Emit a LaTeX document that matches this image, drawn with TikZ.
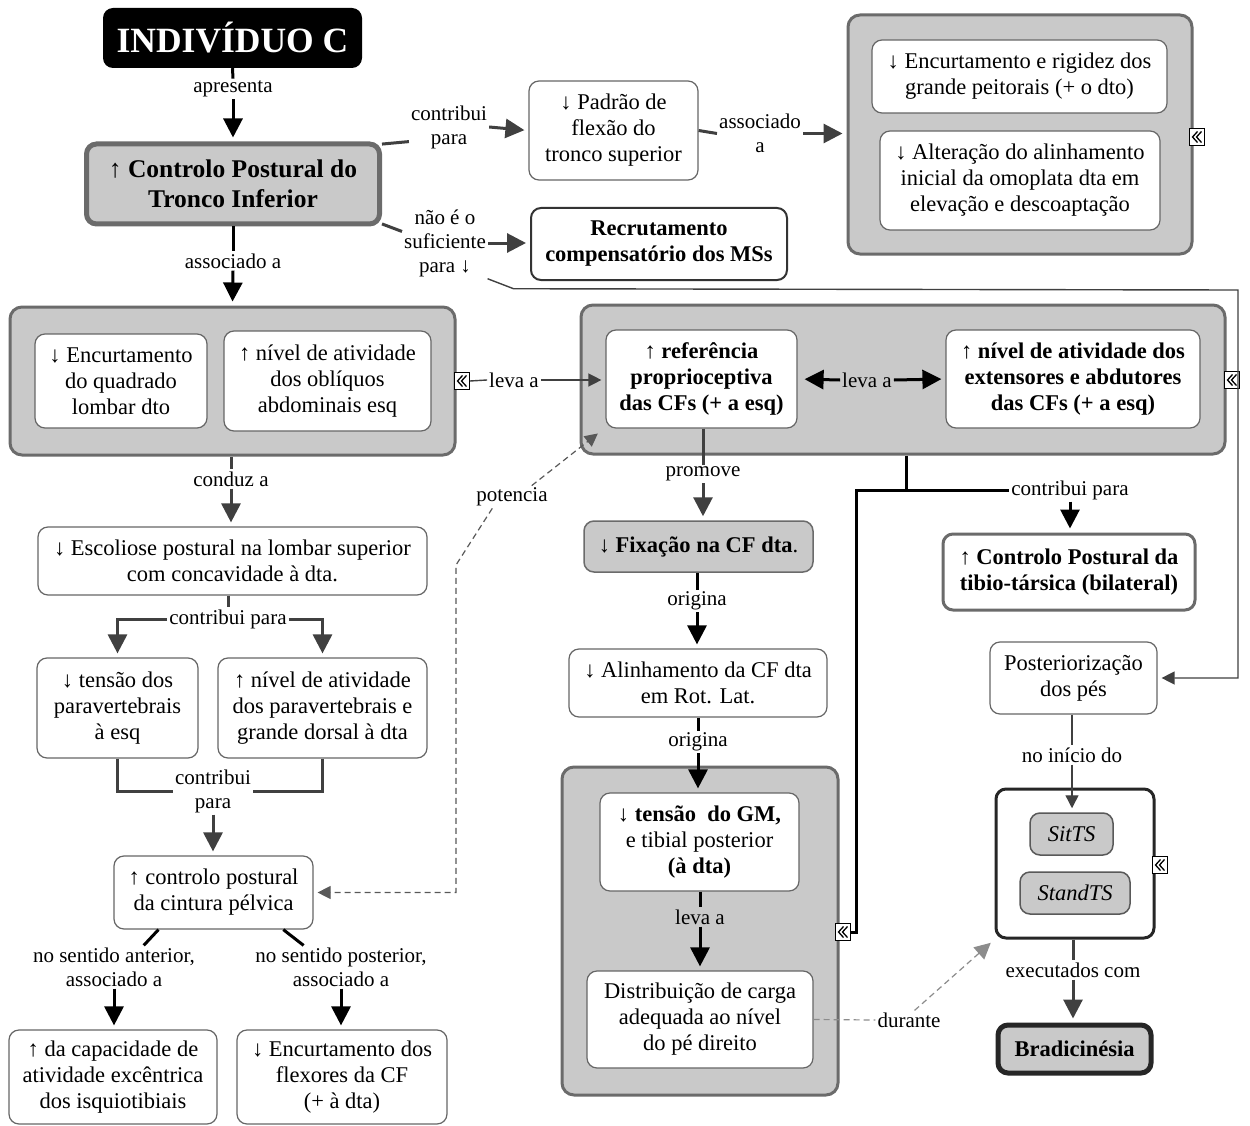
\documentclass[tikz,border=0pt]{standalone}
\usepackage{fontspec}
\setmainfont{Liberation Serif}
\usetikzlibrary{arrows.meta,calc}
\begin{document}
\begin{tikzpicture}[x=1pt,y=-1pt,
  base/.style={font=\fontsize{22.5}{26}\selectfont, align=center, inner sep=0pt, rounded corners=10pt},
  plain/.style={base, draw=black!60, line width=1.2pt, fill=white},
  boldtxt/.style={font=\bfseries\fontsize{22.5}{26}\selectfont},
  grp/.style={draw=black!58, line width=3pt, fill=black!21, rounded corners=12pt, inner sep=0pt},
  lbl/.style={font=\fontsize{21}{24}\selectfont, align=center, inner sep=2pt},
  icon/.style={draw=black, fill=white, line width=1pt, minimum width=15pt, minimum height=17pt, inner sep=0pt,
    path picture={
      \draw[line width=1.3pt, line join=miter]
        ([xshift=0.5pt,yshift=-5.5pt]path picture bounding box.center) -- ++(-5,-5.5) -- ++(5,-5.5)
        ([xshift=4.5pt,yshift=-5.5pt]path picture bounding box.center) -- ++(-5,-5.5) -- ++(5,-5.5);
    }},
  blackln/.style={line width=3pt, draw=black},
  grayln/.style={line width=3pt, draw=black!75},
  thinln/.style={line width=1.4pt, draw=black!75},
  bigtip/.style={-{Triangle[length=19pt,width=19pt]}, shorten >=4pt},
  smalltip/.style={-{Triangle[length=13pt,width=13pt]}, shorten >=4pt},
  dashln/.style={dashed, dash pattern=on 6pt off 4pt, line width=1.2pt, draw=black!65},
]
\useasboundingbox[fill=white] (0,0) rectangle (1250,1126);

% ---------- top row ----------
\node[fill=black, text=white, rounded corners=10pt, minimum width=259pt, minimum height=60pt, inner sep=0pt,
      font=\bfseries\fontsize{35.5}{40}\selectfont] (ind) at (232.5,38) {INDIVÍDUO C};
\node[base, draw=black!58, line width=5pt, fill=black!21, minimum width=293pt, minimum height=80pt,
      font=\bfseries\fontsize{25.5}{30}\selectfont] (ctrl) at (233,184) {↑ Controlo Postural do\\Tronco Inferior};
\node[plain, minimum width=169pt, minimum height=99pt] (padrao) at (613.5,130.5) {↓ Padrão de\\flexão do\\tronco superior};

\node[grp, minimum width=344pt, minimum height=239pt] (gtr) at (1020,134.5) {};
\node[plain, minimum width=295pt, minimum height=73pt] (peit) at (1019.5,76.5) {↓ Encurtamento e rigidez dos\\grande peitorais (+ o dto)};
\node[plain, minimum width=280pt, minimum height=99pt] (omo) at (1020,180.5) {↓ Alteração do alinhamento\\inicial da omoplata dta em\\elevação e descoaptação};
\node[icon] (ic1) at (1197,137) {};

\node[plain, draw=black!80, line width=2pt, minimum width=256pt, minimum height=72pt, boldtxt] (recr) at (659,244) {Recrutamento\\compensatório dos MSs};

\node[lbl] (l1) at (233,89) {apresenta};
\node[lbl] (l2) at (449,127) {contribui\\para};
\node[lbl] (l3) at (760,133.5) {associado\\a};
\node[lbl] (l4) at (445,243) {não é o\\suficiente\\para ↓};
\node[lbl] (l5) at (233,261) {associado a};

% ---------- left group ----------
\node[grp, minimum width=445pt, minimum height=148pt] (g1) at (232.5,381) {};
\node[plain, minimum width=172pt, minimum height=94pt] (quad) at (121,381) {↓ Encurtamento\\do quadrado\\lombar dto};
\node[plain, minimum width=207pt, minimum height=100pt] (obliq) at (327.5,381) {↑ nível de atividade\\dos oblíquos\\abdominais esq};
\node[icon] (ic2) at (462,381) {};
\node[lbl] (lL) at (514,380) {leva a};

% ---------- middle group ----------
\node[grp, minimum width=644pt, minimum height=149pt] (g2) at (903,379.5) {};
\node[plain, minimum width=191pt, minimum height=98pt, boldtxt] (refc) at (701.5,379) {↑ referência\\proprioceptiva\\das CFs (+ a esq)};
\node[plain, minimum width=254pt, minimum height=98pt, boldtxt] (refd) at (1073,379) {↑ nível de atividade dos\\extensores e abdutores\\das CFs (+ a esq)};
\node[icon] (ic3) at (1232,380) {};
\node[lbl] (lLv) at (867,380) {leva a};

% ---------- left column ----------
\node[lbl] (lCd) at (231,479) {conduz a};
\node[plain, minimum width=389pt, minimum height=68pt] (esc) at (232.5,561) {↓ Escoliose postural na lombar superior\\com concavidade à dta.};
\node[lbl] (lC2) at (228,619) {contribui para};
\node[plain, minimum width=161pt, minimum height=100pt] (t1) at (117.5,708) {↓ tensão dos\\paravertebrais\\à esq};
\node[plain, minimum width=209pt, minimum height=100pt] (t2) at (322.5,708) {↑ nível de atividade\\dos paravertebrais e\\grande dorsal à dta};
\node[lbl] (lC3) at (213,791) {contribui\\para};
\node[plain, minimum width=199pt, minimum height=73pt] (pelv) at (213.5,892.5) {↑ controlo postural\\da cintura pélvica};
\node[lbl] (nsa) at (114,967) {no sentido anterior,\\associado a};
\node[lbl] (nsp) at (341,967) {no sentido posterior,\\associado a};
\node[plain, minimum width=208pt, minimum height=94pt] (isq) at (113,1077) {↑ da capacidade de\\atividade excêntrica\\dos isquiotibiais};
\node[plain, minimum width=210pt, minimum height=94pt] (flex) at (342,1077) {↓ Encurtamento dos\\flexores da CF\\(+ à dta)};
\node[lbl] (lPo) at (512,497) {potencia};
\coordinate (potend) at (601,431);

% ---------- middle column ----------
\node[lbl] (lPr) at (703,474) {promove};
\node[base, draw=black!58, line width=1.5pt, fill=black!21, minimum width=229pt, minimum height=51pt] (fix) at (698.5,546.5) {\textbf{↓ Fixação na CF dta}.};
\node[lbl] (lO1) at (697,601) {origina};
\node[plain, minimum width=258pt, minimum height=68pt] (alin) at (698,683) {↓ Alinhamento da CF dta\\em Rot. Lat.};
\node[lbl] (lO2) at (698,742) {origina};
\node[grp, minimum width=276pt, minimum height=328pt] (g3) at (700,931) {};
\node[plain, minimum width=199pt, minimum height=98pt] (tens) at (699.5,842) {\textbf{↓ tensão\ \ do GM,}\\e tibial posterior\\\textbf{(à dta)}};
\node[lbl] (lLv2) at (700,917) {leva a};
\node[plain, minimum width=226pt, minimum height=97pt] (dist) at (700,1019.5) {Distribuição de carga\\adequada ao nível\\do pé direito};
\node[icon] (ic4) at (843,932) {};

% ---------- right column ----------
\node[lbl] (lCP) at (1070,490) {contribui para};
\node[base, draw=black!58, line width=3pt, fill=white, minimum width=252pt, minimum height=76pt, boldtxt] (tibio) at (1069,572) {↑ Controlo Postural da\\tibio-társica (bilateral)};
\node[plain, minimum width=167pt, minimum height=72pt] (post) at (1073.5,678) {Posteriorização\\dos pés};
\node[lbl] (lNI) at (1072,755) {no início do};
\node[base, draw=black!85, line width=3pt, fill=white, minimum width=158pt, minimum height=149pt] (g4) at (1075,863.5) {};
\node[base, draw=black!65, line width=1.5pt, fill=black!21, minimum width=83pt, minimum height=42pt, font=\itshape\fontsize{22.5}{26}\selectfont] (sit) at (1071.5,834) {SitTS};
\node[base, draw=black!65, line width=1.5pt, fill=black!21, minimum width=110pt, minimum height=42pt, font=\itshape\fontsize{22.5}{26}\selectfont] (stand) at (1075,893) {StandTS};
\node[icon] (ic5) at (1160,865) {};
\node[lbl] (lEx) at (1073,970) {executados com};
\node[base, draw=black!85, line width=5pt, fill=black!21, minimum width=153pt, minimum height=48pt, boldtxt] (brad) at (1074.5,1049) {Bradicinésia};
\node[lbl] (lDu) at (909,1020) {durante};

% ---------- connectors ----------
\draw[blackln] (ind.south) -- (l1.north);
\draw[blackln, bigtip] (l1.south) -- (ctrl.north);
\draw[grayln] (ctrl.15) -- (l2.200);
\draw[grayln, bigtip] (l2.east) -- (padrao.west);
\draw[grayln] (padrao.east) -- (l3.west);
\draw[grayln, bigtip] (l3.east) -- (l3.east -| gtr.west);
\draw[grayln] (ctrl.-15) -- (l4.165);
\draw[grayln, bigtip] (l4.east) -- (l4.east -| recr.west);
\draw[thinln, smalltip] (l4.-40) -- ++(26,10) -- (1238,290) |- (post.east);
\draw[blackln] (ctrl.south) -- (l5.north);
\draw[blackln, bigtip] (l5.south) -- (g1.north);

\draw[thinln] (ic2.east) -- (lL.west);
\draw[thinln, smalltip] (lL.east) -- (lL.east -| refc.west);
\draw[blackln, bigtip, shorten >=7pt] (lLv.west) -- (refc.east);
\draw[blackln, bigtip] (lLv.east) -- (refd.west);

\draw[grayln] (g1.south -| lCd) -- (lCd.north);
\draw[grayln, bigtip] (lCd.south) -- (lCd.south |- esc.north);
\draw[grayln] (esc.south -| lC2) -- (lC2.north);
\draw[grayln, bigtip] (lC2.west) -| (t1.north);
\draw[grayln, bigtip] (lC2.east) -| (t2.north);
\draw[grayln] (t1.south) |- (lC3.west);
\draw[grayln] (t2.south) |- (lC3.east);
\draw[grayln, bigtip] (lC3.south) -- (lC3.south |- pelv.north);
\draw[blackln] (pelv.-146) -- (nsa.36);
\draw[blackln] (pelv.-28) -- (nsp.150);
\draw[blackln, bigtip] (nsa.south) -- (nsa.south |- isq.north);
\draw[blackln, bigtip] (nsp.south) -- (nsp.south |- flex.north);

\draw[dashln, smalltip] (lPo.210) -- (456,565) |- (pelv.east);
\draw[dashln, smalltip] (lPo.30) -- (potend);

\draw[grayln] (refc.south -| lPr) -- (lPr.north);
\draw[grayln, bigtip] (lPr.south) -- (lPr.south |- fix.north);
\draw[blackln] (fix.south -| lO1) -- (lO1.north);
\draw[blackln, bigtip] (lO1.south) -- (lO1.south |- alin.north);
\draw[blackln] (alin.south -| lO2) -- (lO2.north);
\draw[blackln, bigtip] (lO2.south) -- (lO2.south |- tens.north);
\draw[blackln] (tens.south -| lLv2) -- (lLv2.north);
\draw[blackln, bigtip] (lLv2.south) -- (lLv2.south |- dist.north);

\coordinate (jn) at (906,490);
\draw[blackln] (g2.south -| jn) -- (jn) -- (lCP.west);
\draw[blackln] (jn) -- (856,490) -- (856,932) -- (ic4.east);
\draw[blackln, bigtip] (lCP.south) -- (lCP.south |- tibio.north);

\draw[thinln] (post.south -| lNI) -- (lNI.north);
\draw[thinln, smalltip] (lNI.south) -- (lNI.south |- sit.north);
\draw[grayln] (g4.south -| lEx) -- (lEx.north);
\draw[grayln, bigtip] (lEx.south) -- (lEx.south |- brad.north);

\draw[dashln, draw=black!45] (dist.east) -- (lDu.west);
\draw[dashln, draw=black!45, -{Triangle[length=16pt,width=16pt]}, shorten >=5pt] (lDu.60) -- (g4.south west);
\end{tikzpicture}
\end{document}
